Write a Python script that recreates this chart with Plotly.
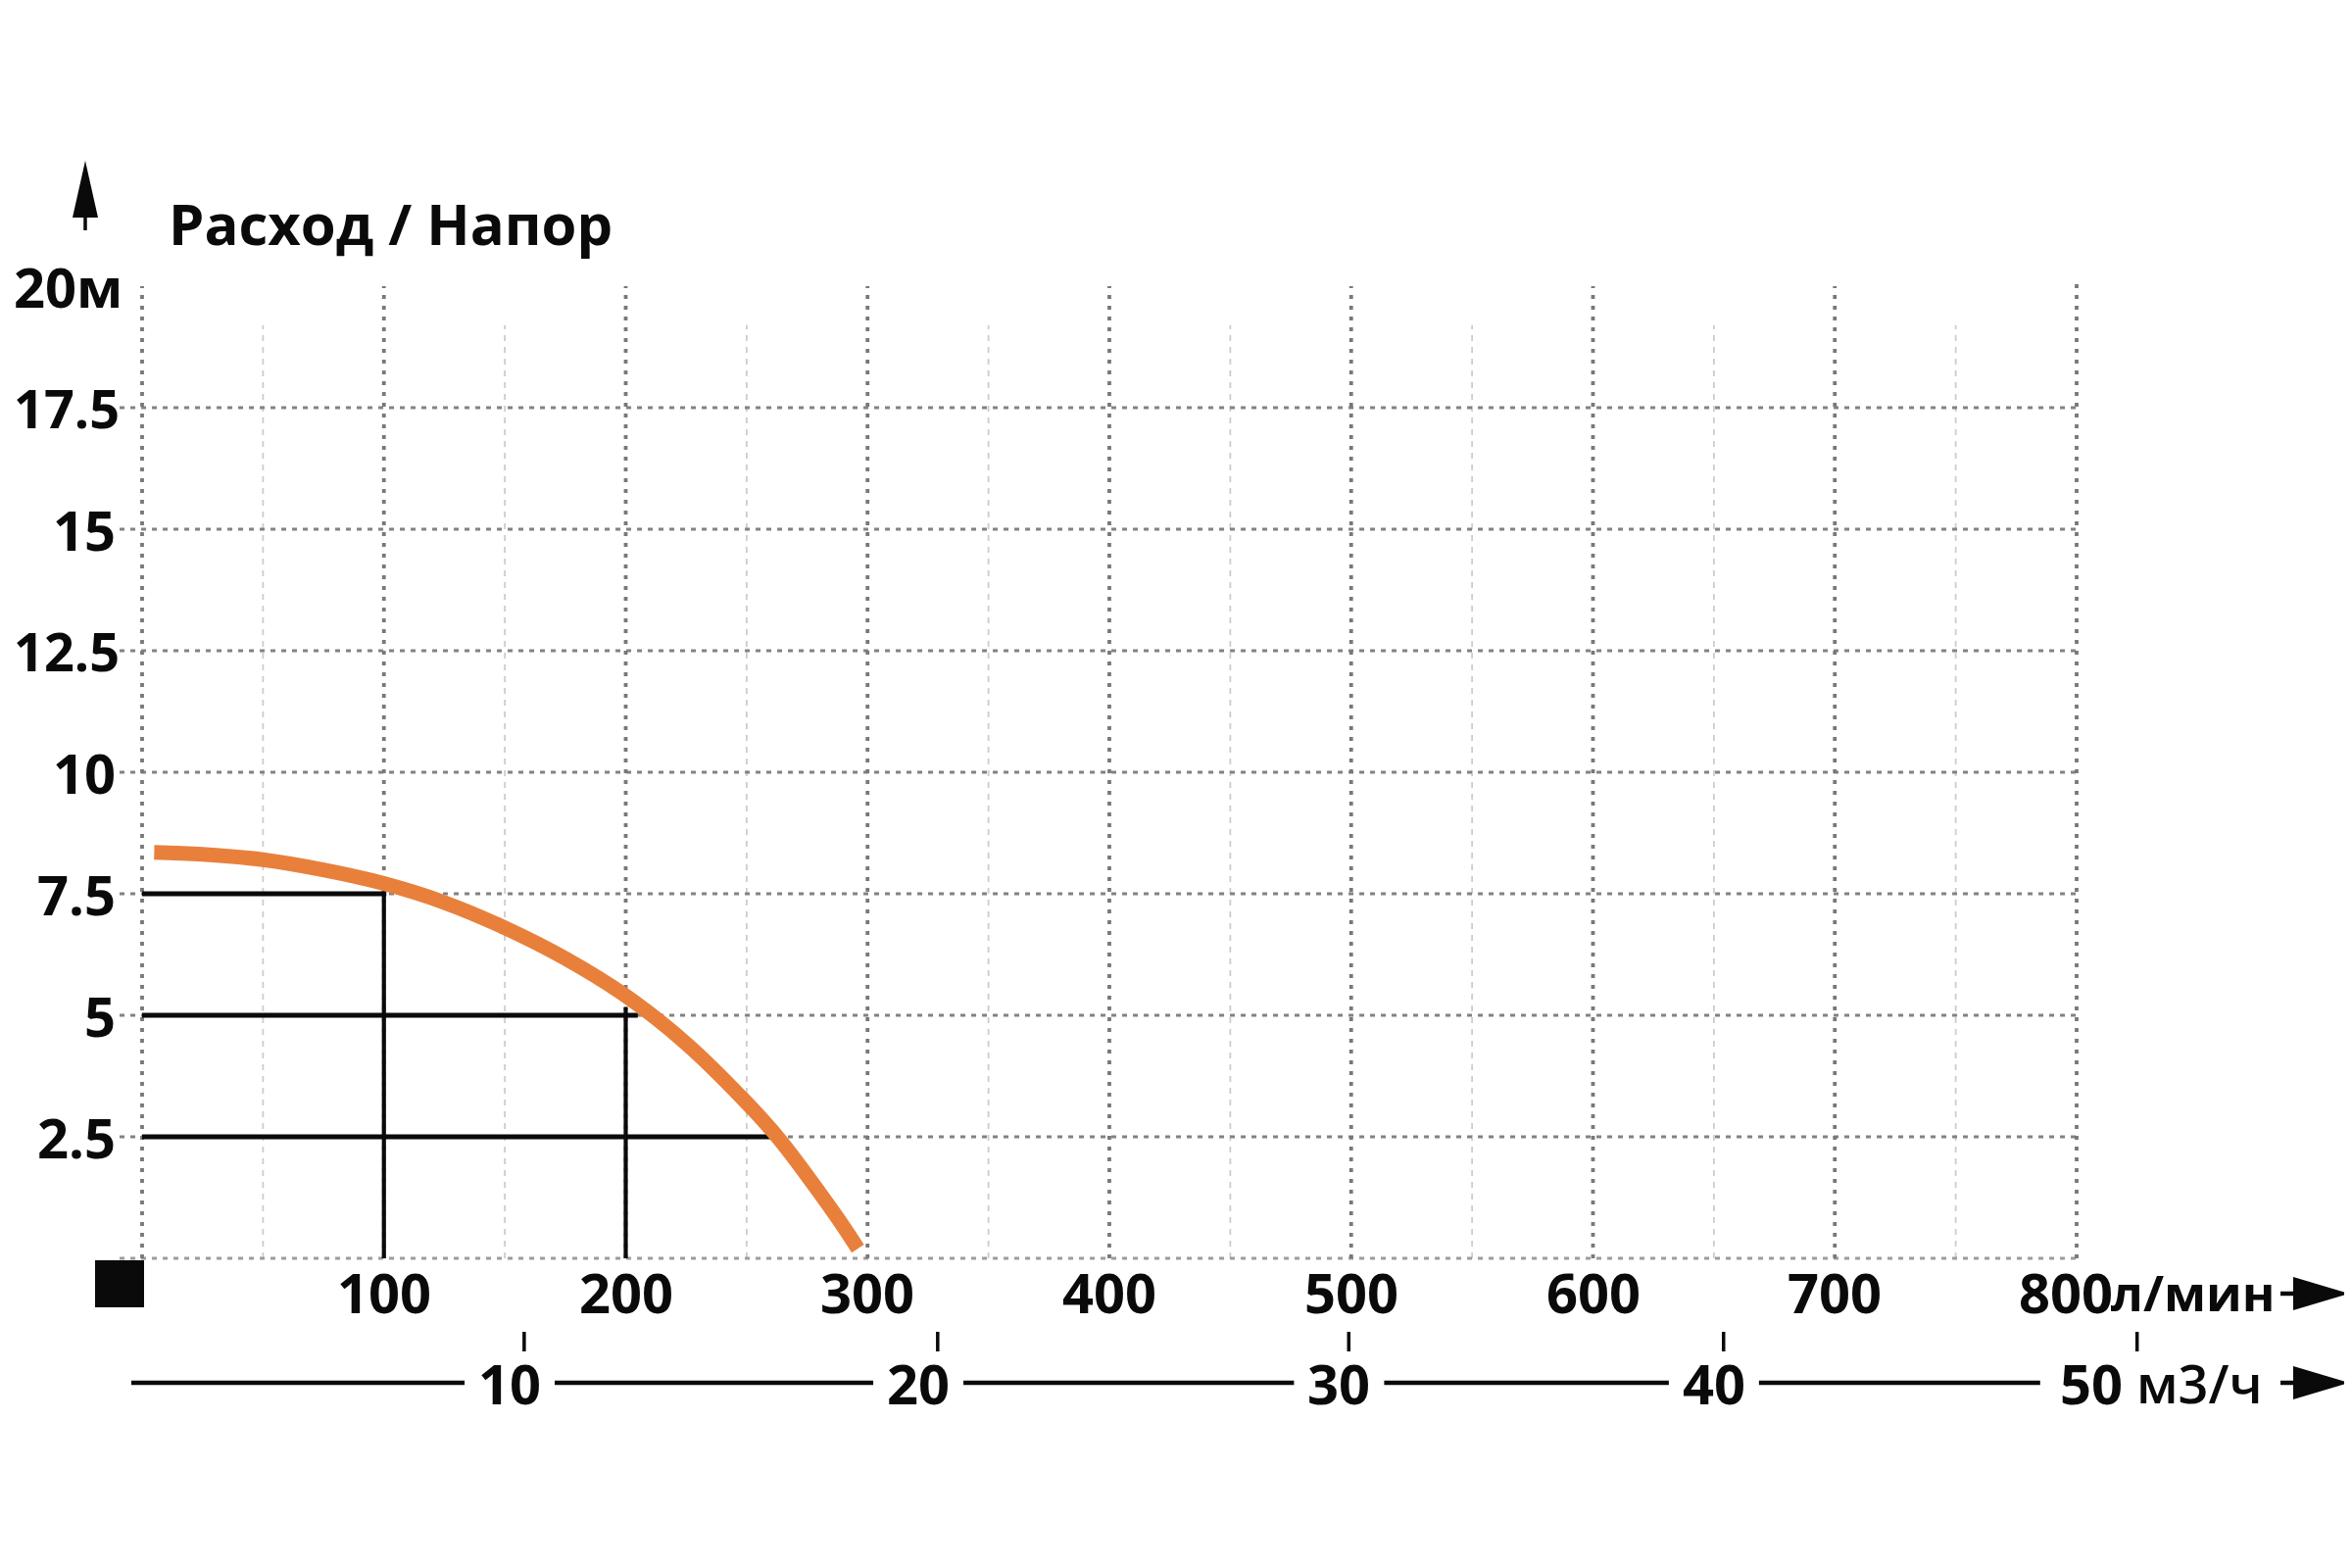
import plotly.graph_objects as go

# ---------------- data ----------------
flow_lpm = [5, 25, 50, 75, 100, 125, 150, 175, 200, 225, 250, 264, 279, 288, 296]
head_m = [8.35, 8.31, 8.2, 7.99, 7.71, 7.32, 6.8, 6.17, 5.4, 4.42, 3.2, 2.42, 1.43, 0.8, 0.2]

head_ticks = [2.5, 5, 7.5, 10, 12.5, 15, 17.5, 20]
head_tick_text = ["2.5", "5", "7.5", "10", "12.5", "15", "17.5", "20м"]

flow_ticks = [100, 200, 300, 400, 500, 600, 700]
flow_tick_text = ["100", "200", "300", "400", "500", "600", "700"]
flow_last_tick = 800
flow_last_text = "800"
flow_unit = "л/мин"

m3h_ticks = ["10", "20", "30", "40", "50"]
m3h_tick_at_lpm = [158, 329, 499, 654, 825]
m3h_label_at_lpm = [152, 321, 495, 650, 806]
m3h_unit = "м3/ч"

grid_major_x = [0, 100, 200, 300, 400, 500, 600, 700, 800]
grid_minor_x = [50, 150, 250, 350, 450, 550, 650, 750]
grid_y = [0, 2.5, 5, 7.5, 10, 12.5, 15, 17.5]

ref_levels = [7.5, 5.0, 2.5]
ref_level_end = [101, 205, 260]
ref_flows = [100, 200]
ref_flow_top = [7.55, 5.16]

title_text = "Расход / Напор"

# ---------------- layout geometry ----------------
OFF = 8                      # default page (body) margin of the html page
W, H = 2400 - 2 * OFF, 1600 - 2 * OFF
L, R, T, B = 107, 243, 254, 278
PW, PH = W - L - R, H - T - B
PX_PER_X = 2.4675
PX_PER_Y = 49.6
X0_PAGE, Y0_PAGE = 145, 1284          # page pixel of data origin
XMIN = -(X0_PAGE - OFF - L) / PX_PER_X
XMAX = XMIN + PW / PX_PER_X
YMIN = -((H - B) - (Y0_PAGE - OFF)) / PX_PER_Y
YMAX = YMIN + PH / PX_PER_Y


def X(p):  # page pixel column -> paper x
    return (p - OFF - L) / PW


def Y(p):  # page pixel row -> paper y
    return (H - B - (p - OFF)) / PH


def xpx(v):  # data x -> page pixel column
    return X0_PAGE + v * PX_PER_X


FONT = "Open Sans"
BLACK = "#0a0a0a"

fig = go.Figure()

# reference (operating point) lines
for lvl, end in zip(ref_levels, ref_level_end):
    fig.add_trace(go.Scatter(x=[0, end], y=[lvl, lvl], mode="lines",
                             line=dict(color=BLACK, width=5), hoverinfo="skip",
                             showlegend=False))
for q, top in zip(ref_flows, ref_flow_top):
    fig.add_trace(go.Scatter(x=[q, q], y=[0, top], mode="lines",
                             line=dict(color=BLACK, width=4.2), hoverinfo="skip",
                             showlegend=False))

# pump curve
fig.add_trace(go.Scatter(x=flow_lpm, y=head_m, mode="lines",
                         line=dict(color="#E8803C", width=15, shape="spline", smoothing=1.0),
                         showlegend=False))

shapes = []
# grid: minor verticals
for x in grid_minor_x:
    shapes.append(dict(type="line", xref="x", yref="y", x0=x, x1=x, y0=0, y1=19.2,
                       line=dict(color="#cccccc", width=1.8, dash="6px,6px"), layer="below"))
# grid: horizontal
for y in grid_y:
    shapes.append(dict(type="line", xref="x", yref="y", x0=-9.3, x1=800, y0=y, y1=y,
                       line=dict(color="#828282" if y > 0 else "#9c9c9c", width=2.8,
                                 dash="5px,6px"), layer="below"))
# grid: major verticals
for x in grid_major_x:
    shapes.append(dict(type="line", xref="x", yref="y", x0=x, x1=x, y0=0,
                       y1=20.1 if x == 800 else 20.0,
                       line=dict(color="#787878", width=3.8, dash="4px,7px"), layer="below"))

# black square at origin
shapes.append(dict(type="rect", xref="paper", yref="paper", x0=X(97), x1=X(147),
                   y0=Y(1334), y1=Y(1286), fillcolor=BLACK, line=dict(width=0)))

# vertical (head) arrow
shapes.append(dict(type="path", xref="paper", yref="paper",
                   path=f"M{X(87)},{Y(164)} L{X(100)},{Y(222)} L{X(74)},{Y(222)} Z",
                   fillcolor=BLACK, line=dict(width=0)))
shapes.append(dict(type="line", xref="paper", yref="paper", x0=X(87), x1=X(87),
                   y0=Y(218), y1=Y(235), line=dict(color=BLACK, width=3.5)))

# horizontal arrows
for cy in (1320, 1411):
    shapes.append(dict(type="line", xref="paper", yref="paper", x0=X(2327), x1=X(2345),
                       y0=Y(cy), y1=Y(cy), line=dict(color=BLACK, width=4.5)))
    shapes.append(dict(type="path", xref="paper", yref="paper",
                       path=f"M{X(2397)},{Y(cy)} L{X(2340)},{Y(cy - 17)} L{X(2340)},{Y(cy + 17)} Z",
                       fillcolor=BLACK, line=dict(width=0)))

# m3/h tick marks
for v in m3h_tick_at_lpm:
    shapes.append(dict(type="line", xref="paper", yref="paper", x0=X(xpx(v)), x1=X(xpx(v)),
                       y0=Y(1379), y1=Y(1359), line=dict(color=BLACK, width=3.5)))

# m3/h axis line with gaps around labels
seg_start = 134
gap_half = 46
for lab in m3h_label_at_lpm[:-1]:
    c = xpx(lab)
    shapes.append(dict(type="line", xref="paper", yref="paper", x0=X(seg_start), x1=X(c - gap_half),
                       y0=Y(1411), y1=Y(1411), line=dict(color=BLACK, width=4.5)))
    seg_start = c + gap_half
shapes.append(dict(type="line", xref="paper", yref="paper", x0=X(seg_start),
                   x1=X(xpx(m3h_label_at_lpm[-1]) - 52),
                   y0=Y(1411), y1=Y(1411), line=dict(color=BLACK, width=4.5)))

annotations = []
bold = dict(family=FONT, size=56, color=BLACK, weight="bold")

annotations.append(dict(text=title_text, xref="paper", yref="paper", x=X(170), y=Y(228),
                        xanchor="left", yanchor="middle", showarrow=False,
                        font=dict(family=FONT, size=58, color=BLACK, weight="bold")))

for v, t in zip(head_ticks, head_tick_text):
    wide = len(t) >= 4
    annotations.append(dict(text=t, xref="paper", yref="y",
                            x=X(127 if t.endswith("м") else (124 if wide else 120)),
                            y=v, xanchor="right", yanchor="middle", showarrow=False,
                            font=dict(family=FONT, size=54 if wide else 56, color=BLACK,
                                      weight="bold")))

for v, t in zip(flow_ticks, flow_tick_text):
    annotations.append(dict(text=t, xref="x", yref="paper", x=v, y=Y(1318),
                            xanchor="center", yanchor="middle", showarrow=False, font=bold))
annotations.append(dict(text=flow_last_text, xref="x", yref="paper", x=flow_last_tick, y=Y(1318),
                        xshift=-11, xanchor="center", yanchor="middle", showarrow=False, font=bold))
annotations.append(dict(text=flow_unit, xref="x", yref="paper", x=flow_last_tick, y=Y(1318),
                        xshift=33, xanchor="left", yanchor="middle", showarrow=False,
                        font=dict(family=FONT, size=51, color=BLACK, weight="bold")))

for v, t in zip(m3h_label_at_lpm, m3h_ticks):
    annotations.append(dict(text=t, xref="x", yref="paper", x=v, y=Y(1411),
                            xanchor="center", yanchor="middle", showarrow=False, font=bold))
annotations.append(dict(text=m3h_unit, xref="x", yref="paper", x=m3h_label_at_lpm[-1], y=Y(1411),
                        xshift=44, xanchor="left", yanchor="middle", showarrow=False,
                        font=dict(family=FONT, size=54, color=BLACK, weight=600)))

fig.update_layout(
    width=W, height=H,
    margin=dict(l=L, r=R, t=T, b=B, autoexpand=False),
    paper_bgcolor="white", plot_bgcolor="white",
    xaxis=dict(range=[XMIN, XMAX], visible=False, fixedrange=True),
    yaxis=dict(range=[YMIN, YMAX], visible=False, fixedrange=True),
    shapes=shapes, annotations=annotations, showlegend=False,
)

fig.write_html("out.html")
